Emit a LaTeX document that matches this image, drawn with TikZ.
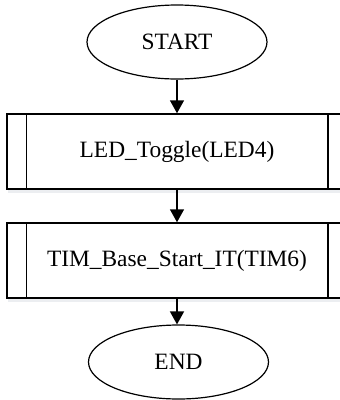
\documentclass[tikz,border=0pt]{standalone}
\usepackage{fontspec}
\setmainfont{Liberation Serif}
\usetikzlibrary{shapes.geometric,arrows.meta,shadows}
\definecolor{shadowgray}{RGB}{200,206,216}
\begin{document}
\begin{tikzpicture}[x=1pt,y=-1pt,
  label font/.style={font=\fontsize{23.4}{26}\selectfont},
  terminal/.style={draw,ellipse,line width=1.2pt,inner sep=0pt,
    minimum width=180pt,minimum height=74pt,label font},
  procbox/.style={draw,rectangle,line width=1.5pt,inner sep=0pt,fill=white,
    minimum width=340pt,minimum height=75pt,label font,
    drop shadow={fill=shadowgray,opacity=0.35,shadow xshift=1pt,shadow yshift=-4pt}},
  flow/.style={line width=1.5pt,-{Triangle[length=13pt,width=14pt]}},
  sideline/.style={line width=1.5pt}]
\useasboundingbox (0,0) rectangle (340,400);
\clip (0,0) rectangle (340,400);

% terminals and predefined-process boxes
\node[terminal] (start) at (177,42) {START};
\node[procbox] (toggle) at (177,151.5) {LED\_Toggle(LED4)};
\node[procbox] (timer) at (177,260.5) {TIM\_Base\_Start\_IT(TIM6)};
\node[terminal] (end) at (178.5,362) {END};

% double side bars of the subroutine boxes
\foreach \b in {toggle,timer}{
  \draw[sideline] ([xshift=20pt]\b.north west) -- ([xshift=20pt]\b.south west);
  \draw[sideline] ([xshift=-20pt]\b.north east) -- ([xshift=-20pt]\b.south east);
}

% flow connectors
\draw[flow] (start.south) -- (start.south |- toggle.north);
\draw[flow] (toggle.south) -- (timer.north);
\draw[flow] (timer.south) -- (timer.south |- end.north);
\end{tikzpicture}
\end{document}
